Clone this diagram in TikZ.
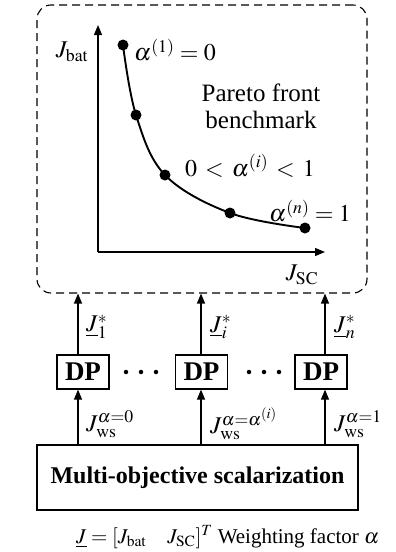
\documentclass[tikz,border=0pt]{standalone}
\usepackage{mathptmx}
\usepackage[no-math]{fontspec}
\setmainfont{Liberation Serif}
\usetikzlibrary{arrows.meta,calc}
\begin{document}
\begin{tikzpicture}[x=1pt,y=-1pt,
  every node/.style={font=\fontsize{24}{28}\selectfont, inner sep=0pt},
  arr/.style={-{Triangle[length=10pt,width=8pt]}, line width=1.2pt},
  dpbox/.style={draw, line width=1.2pt, minimum width=52pt, minimum height=34pt, font=\fontsize{27}{30}\selectfont\bfseries},
  dot/.style={circle, fill=black, minimum size=11pt, inner sep=0pt},
  sdot/.style={circle, fill=black, minimum size=4.5pt, inner sep=0pt}]
\useasboundingbox (0,0) rectangle (396,552);
% dashed Pareto box
\node[draw, dashed, line width=1.1pt, rounded corners=14pt, minimum width=330pt, minimum height=288pt, dash pattern=on 8pt off 5pt] (pf) at (202,149) {};
% axes
\coordinate (o) at (98,252);
\coordinate (ytip) at (98,25);
\coordinate (xtip) at (325,252);
\draw[arr] (o) -- (ytip);
\draw[arr] (o) -- (xtip);
\node (jbat) at (72,52) {$J_{\mathrm{bat}}$};
\node (jsc) at (302,275) {$J_{\mathrm{SC}}$};
% curve
\draw[line width=1.9pt] plot[smooth, tension=0.6] coordinates {(123,45) (136,115) (165,175) (230,213) (305,228)};
\node[dot] (p1) at (123,45) {};
\node[dot] (p2) at (136,115) {};
\node[dot] (p3) at (165,175) {};
\node[dot] (p4) at (230,213) {};
\node[dot] (p5) at (305,228) {};
\node[anchor=west] (l1) at (134,50) {$\alpha^{(1)}=0$};
\node[font=\fontsize{25}{29}\selectfont] (pft) at (261,93) {Pareto front};
\node[font=\fontsize{25}{29}\selectfont] (bm) at (261,120) {benchmark};
\node[anchor=west] (li) at (185,166) {$0\,<\,\alpha^{(i)}\,<\,1$};
\node[anchor=west] (ln) at (269,211) {$\alpha^{(n)}=1$};
% DP boxes
\node[dpbox] (dp1) at (83,372) {DP};
\node[dpbox] (dp2) at (201.5,372) {DP};
\node[dpbox] (dp3) at (321,372) {DP};
\node[sdot] (da1) at (126,372) {};
\node[sdot] (da2) at (141,372) {};
\node[sdot] (da3) at (156,372) {};
\node[sdot] (db1) at (249,372) {};
\node[sdot] (db2) at (264,372) {};
\node[sdot] (db3) at (279,372) {};
% multi box
\node[draw, line width=1.2pt, minimum width=321pt, minimum height=65pt, font=\fontsize{24}{28}\selectfont\bfseries] (ms) at (197.5,477.5) {Multi-objective scalarization};
% arrow x positions
\coordinate (a1) at (78,0);
\coordinate (a2) at (201,0);
\coordinate (a3) at (325,0);
\foreach \a/\d in {a1/dp1,a2/dp2,a3/dp3}{
  \draw[arr] (ms.north -| \a) -- (\d.south -| \a);
  \draw[arr] (\d.north -| \a) -- (pf.south -| \a);
}
\node[anchor=west] (j1) at (86,327) {$\underline{J}_1^{*}$};
\node[anchor=west] (ji) at (210,327) {$\underline{J}_i^{*}$};
\node[anchor=west] (jn) at (334,327) {$\underline{J}_n^{*}$};
\node[anchor=west] (w1) at (86,424) {$J_{\mathrm{ws}}^{\alpha=0}$};
\node[anchor=west] (wi) at (210,424) {$J_{\mathrm{ws}}^{\alpha=\alpha^{(i)}}$};
\node[anchor=west] (wn) at (334,424) {$J_{\mathrm{ws}}^{\alpha=1}$};
\node[anchor=west, font=\fontsize{21}{26}\selectfont] (bt) at (76,537) {$\underline{J}=[J_{\mathrm{bat}}\quad J_{\mathrm{SC}}]^{T}$ Weighting factor $\alpha$};
\end{tikzpicture}
\end{document}
